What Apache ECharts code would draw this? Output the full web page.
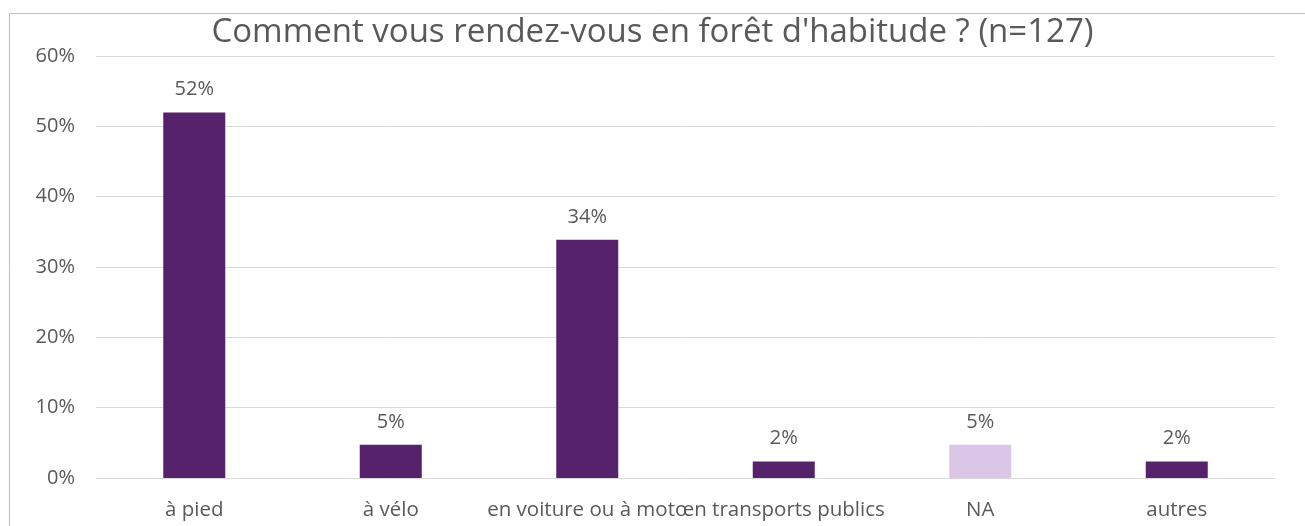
<!DOCTYPE html>
<html>
<head>
<meta charset="utf-8">
<title>Comment vous rendez-vous en forêt</title>
<script src="https://cdn.jsdelivr.net/npm/echarts@6/dist/echarts.min.js"></script>
<style>
  html, body { margin: 0; padding: 0; background: #fff; }
  #chart { width: 1305px; height: 526px; }
</style>
</head>
<body>
<div id="chart"></div>
<script>
// données (part des répondants, n=127)
const categories = ['à pied', 'à vélo', 'en voiture ou à moto', 'en transports publics', 'NA', 'autres']
const shares = [0.5197, 0.0472, 0.3386, 0.0236, 0.0472, 0.0236]
const yTicks = [0, 0.1, 0.2, 0.3, 0.4, 0.5, 0.6]

const textColor = '#595959'
const barColor = '#55226b'
const naColor = '#dcc6e8'
const font = 'Open Sans'

const chart = echarts.init(document.getElementById('chart'))
const option = {
  animation: false,
  title: {
    text: "Comment vous rendez-vous en forêt d'habitude ? (n=127)",
    left: 'center',
    top: 11,
    textStyle: {
      fontFamily: font,
      fontWeight: 'normal',
      fontSize: 33,
      color: textColor,
    },
  },
  graphic: [
    {
      type: 'rect',
      left: 7,
      top: 11,
      shape: { width: 1320, height: 540 },
      style: { fill: 'none', stroke: '#bfbfbf', lineWidth: 1 },
      silent: true,
    },
  ],
  grid: {
    left: 96,
    right: 30,
    top: 56,
    bottom: 48,
  },
  xAxis: {
    type: 'category',
    data: categories,
    axisTick: { show: false },
    axisLine: { lineStyle: { color: '#d9d9d9', width: 1 } },
    axisLabel: {
      interval: 0,
      color: textColor,
      fontFamily: font,
      fontSize: 20.5,
      margin: 22,
      overflow: 'none',
      hideOverlap: false,
    },
  },
  yAxis: {
    type: 'value',
    min: yTicks[0],
    max: yTicks[yTicks.length - 1],
    interval: 0.1,
    axisLine: { show: false },
    axisTick: { show: false },
    splitLine: { lineStyle: { color: '#d9d9d9', width: 1 } },
    axisLabel: {
      color: textColor,
      fontFamily: font,
      fontSize: 20,
      margin: 21,
      formatter: (v) => Math.round(v * 100) + '%',
    },
  },
  series: [
    {
      type: 'bar',
      data: shares,
      barWidth: 62,
      itemStyle: {
        color: (p) => (p.name === 'NA' ? naColor : barColor),
      },
      label: {
        show: true,
        position: 'top',
        distance: 13,
        color: textColor,
        fontFamily: font,
        fontSize: 20,
        formatter: (p) => Math.round(p.value * 100) + '%',
      },
    },
  ],
}
chart.setOption(option)
</script>
</body>
</html>
